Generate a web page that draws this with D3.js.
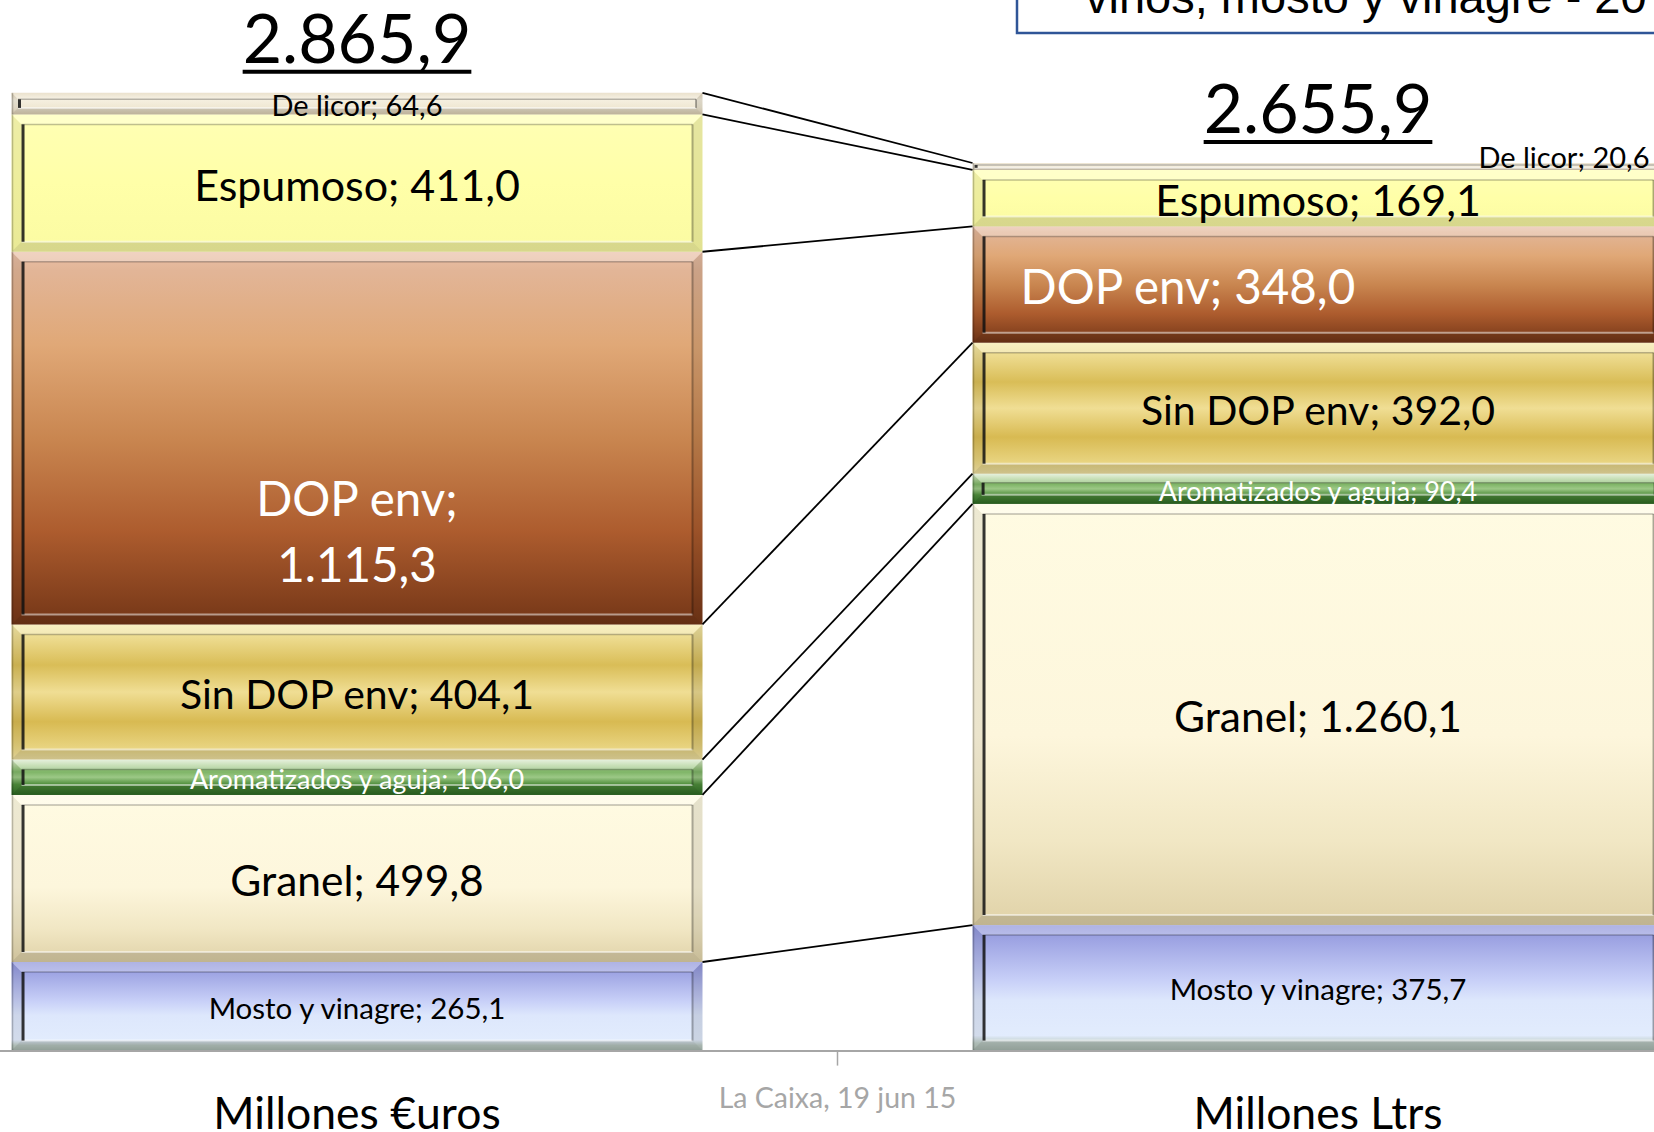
<!DOCTYPE html>
<html>
<head>
<meta charset="utf-8">
<script src="https://cdn.jsdelivr.net/npm/d3@7"></script>
<style>
  html, body { margin: 0; padding: 0; background: #fff; overflow: hidden; }
  svg { display: block; font-family: Lato, sans-serif; }
</style>
</head>
<body>
<svg id="chart" width="1654" height="1132"></svg>
<script>
// data
var categories = ["Millones €uros", "Millones Ltrs"];
var series = ["Mosto y vinagre", "Granel", "Aromatizados y aguja", "Sin DOP env", "DOP env", "Espumoso", "De licor"];
var euros = [265.1, 499.8, 106.0, 404.1, 1115.3, 411.0, 64.6];
var litros = [375.7, 1260.1, 90.4, 392.0, 348.0, 169.1, 20.6];
var titleText = "vinos, mosto y vinagre - 20";
var sourceText = "La Caixa, 19 jun 15";

// look of each series (gradient stops, label size and colour)
var seriesStyle = {
  "Mosto y vinagre": { size: 29.5, color: "#000", stops: [[0, "#8d93d8"], [0.12, "#9ea4e3"], [0.45, "#c9d1f8"], [0.6, "#dde7fc"], [0.88, "#e2ecfd"], [0.94, "#bccbc4"], [1, "#a9b9b1"]] },
  "Granel": { size: 42.5, color: "#000", stops: [[0, "#fffbe2"], [0.55, "#fdf6dc"], [0.8, "#f1e7c4"], [1, "#e0d2a8"]] },
  "Aromatizados y aguja": { size: 27, color: "#fff", stops: [[0, "#dcebd0"], [0.15, "#b5d59e"], [0.35, "#7fb567"], [0.5, "#9cc886"], [0.7, "#4f8e3c"], [1, "#2e6b23"]] },
  "Sin DOP env": { size: 41, color: "#000", stops: [[0, "#f6eaa9"], [0.12, "#ebd889"], [0.3, "#d9bd57"], [0.5, "#f0de94"], [0.72, "#d8ba52"], [0.9, "#e7d27d"], [1, "#f0e2a2"]] },
  "DOP env": { size: 47.5, color: "#fff", stops: [[0, "#e9c0a7"], [0.05, "#e2b597"], [0.25, "#e0a877"], [0.5, "#c98650"], [0.75, "#ad5c2e"], [1, "#743617"]] },
  "Espumoso": { size: 43, color: "#000", stops: [[0, "#ffffb4"], [0.5, "#ffffa8"], [1, "#fbfba2"]] },
  "De licor": { size: 29, color: "#000", stops: [[0, "#e2d5b8"], [0.35, "#f5efdf"], [0.7, "#efe7d2"], [1, "#ddd0b4"]] }
};

var fmt = d3.formatLocale({ decimal: ",", thousands: ".", grouping: [3], currency: ["", "€"] }).format(",.1f");

var table = categories.map(function(c, i) {
  var row = { cat: c };
  series.forEach(function(s, k) { row[s] = (i === 0 ? euros : litros)[k]; });
  return row;
});

var svg = d3.select("#chart");
var axisY = 1050.6;

var x = d3.scaleBand()
  .domain(categories)
  .range([-123.5, 1798.5])
  .paddingInner(0.281)
  .paddingOuter(0.1405);

var y = d3.scaleLinear()
  .domain([0, 3000])
  .range([axisY, 48]);

var stacked = d3.stack().keys(series)(table);

// gradients
var defs = svg.append("defs");
series.forEach(function(s, k) {
  var grad = defs.append("linearGradient")
    .attr("id", "grad" + k)
    .attr("x1", 0).attr("y1", 0).attr("x2", 0).attr("y2", 1);
  seriesStyle[s].stops.forEach(function(st) {
    grad.append("stop").attr("offset", st[0]).attr("stop-color", st[1]);
  });
});

// title box (cut off at the top)
svg.append("rect")
  .attr("x", 1017).attr("y", -60)
  .attr("width", 700).attr("height", 93)
  .attr("fill", "#fff")
  .attr("stroke", "#2f5597")
  .attr("stroke-width", 2.5);
svg.append("text")
  .attr("x", 1085).attr("y", 13)
  .attr("font-family", "'Liberation Sans', Arial, sans-serif")
  .attr("font-size", 47)
  .text(titleText);

// bevelled block like Excel's shape effect
function bevel(g, bx, by, w, h) {
  var i = Math.min(10, h * 0.3);
  var frames = [
    { pts: [[bx, by], [bx + w, by], [bx + w - i, by + i], [bx + i, by + i]], fill: "#fff", op: 0.3 },
    { pts: [[bx, by + h], [bx + w, by + h], [bx + w - i, by + h - i], [bx + i, by + h - i]], fill: "#000", op: 0.14 },
    { pts: [[bx, by], [bx + i, by + i], [bx + i, by + h - i], [bx, by + h]], fill: "#000", op: 0.07 },
    { pts: [[bx + w, by], [bx + w - i, by + i], [bx + w - i, by + h - i], [bx + w, by + h]], fill: "#000", op: 0.1 }
  ];
  g.selectAll(null)
    .data(frames)
    .enter().append("polygon")
      .attr("points", function(f) { return f.pts.join(" "); })
      .attr("fill", function(f) { return f.fill; })
      .attr("fill-opacity", function(f) { return f.op; });

  var lines = [
    { x1: bx + i, y1: by + i, x2: bx + w - i, y2: by + i, c: "#000", op: 0.25, sw: 1.5 },
    { x1: bx + i, y1: by + h - i, x2: bx + w - i, y2: by + h - i, c: "#fff", op: 0.5, sw: 2 },
    { x1: bx + w - i, y1: by + i, x2: bx + w - i, y2: by + h - i, c: "#000", op: 0.3, sw: 2 },
    { x1: bx + i + 1.5, y1: by + i, x2: bx + i + 1.5, y2: by + h - i, c: "#111", op: 0.85, sw: 3 },
    { x1: bx + 1, y1: by, x2: bx + 1, y2: by + h, c: "#000", op: 0.22, sw: 1.5 }
  ];
  g.selectAll(null)
    .data(lines)
    .enter().append("line")
      .attr("x1", function(l) { return l.x1; })
      .attr("y1", function(l) { return l.y1; })
      .attr("x2", function(l) { return l.x2; })
      .attr("y2", function(l) { return l.y2; })
      .attr("stroke", function(l) { return l.c; })
      .attr("stroke-opacity", function(l) { return l.op; })
      .attr("stroke-width", function(l) { return l.sw; });
}

var layers = svg.selectAll("g.layer")
  .data(stacked)
  .enter().append("g")
    .attr("class", "layer");

layers.each(function(layer, k) {
  var g = d3.select(this);
  layer.forEach(function(d) {
    var bx = x(d.data.cat), w = x.bandwidth();
    var top = y(d[1]), h = y(d[0]) - y(d[1]);
    var seg = g.append("g");
    seg.append("rect")
      .attr("x", bx).attr("y", top)
      .attr("width", w).attr("height", h)
      .attr("fill", "url(#grad" + k + ")");
    bevel(seg, bx, top, w, h);
  });
});

// series lines between the two columns
svg.append("g")
  .selectAll("line")
  .data(stacked)
  .enter().append("line")
    .attr("x1", x(categories[0]) + x.bandwidth())
    .attr("y1", function(layer) { return y(layer[0][1]); })
    .attr("x2", x(categories[1]))
    .attr("y2", function(layer) { return y(layer[1][1]); })
    .attr("stroke", "#000")
    .attr("stroke-width", 1.8);

// data labels
var labels = svg.append("g");
stacked.forEach(function(layer) {
  var st = seriesStyle[layer.key];
  layer.forEach(function(d, j) {
    var bx = x(d.data.cat), w = x.bandwidth();
    var mid = (y(d[0]) + y(d[1])) / 2;
    var value = d[1] - d[0];
    var t = labels.append("text")
      .attr("font-size", st.size)
      .attr("fill", st.color)
      .attr("text-anchor", "middle");

    if (layer.key === "DOP env" && j === 0) {
      t.append("tspan").attr("x", bx + w / 2).attr("y", mid + 78).text(layer.key + ";");
      t.append("tspan").attr("x", bx + w / 2).attr("y", mid + 144).text(fmt(value));
      return;
    }
    t.text(layer.key + "; " + fmt(value))
      .attr("x", bx + w / 2)
      .attr("y", mid + 0.36 * st.size + 2);
    if (layer.key === "DOP env" && j === 1) {
      t.attr("text-anchor", "start").attr("x", bx + 48);
    }
    if (layer.key === "De licor" && j === 1) {
      t.attr("text-anchor", "end").attr("x", bx + w - 14).attr("y", y(d[0]) - 2);
    }
  });
});

// totals, underlined
var totals = table.map(function(row) {
  return { cat: row.cat, total: d3.sum(series, function(s) { return row[s]; }) };
});
var totalG = svg.append("g");
totals.forEach(function(d) {
  var cx = x(d.cat) + x.bandwidth() / 2, by = y(d.total) - 30;
  var t = totalG.append("text")
    .attr("x", cx).attr("y", by)
    .attr("text-anchor", "middle")
    .attr("font-size", 68)
    .text(fmt(d.total));
  var len = t.node().getComputedTextLength();
  totalG.append("line")
    .attr("x1", cx - len / 2).attr("x2", cx + len / 2)
    .attr("y1", by + 9).attr("y2", by + 9)
    .attr("stroke", "#000")
    .attr("stroke-width", 4);
});

// category axis
var axis = svg.append("g")
  .attr("transform", "translate(0," + axisY + ")")
  .call(d3.axisBottom(x).tickSize(0));
axis.select(".domain").attr("stroke", "#a6a6a6").attr("stroke-width", 2);
axis.selectAll(".tick text")
  .attr("font-family", "Lato, sans-serif")
  .attr("font-size", 44.5)
  .attr("fill", "#000")
  .attr("y", 78.4)
  .attr("dy", 0);

var between = x(categories[1]) - x.step() * x.paddingInner() / 2;
axis.append("line")
  .attr("x1", between).attr("x2", between)
  .attr("y1", 0).attr("y2", 15)
  .attr("stroke", "#a6a6a6")
  .attr("stroke-width", 1.5);

svg.append("text")
  .attr("x", between).attr("y", 1108)
  .attr("text-anchor", "middle")
  .attr("font-size", 28.5)
  .attr("fill", "#a6a6a6")
  .text(sourceText);
</script>
</body>
</html>
